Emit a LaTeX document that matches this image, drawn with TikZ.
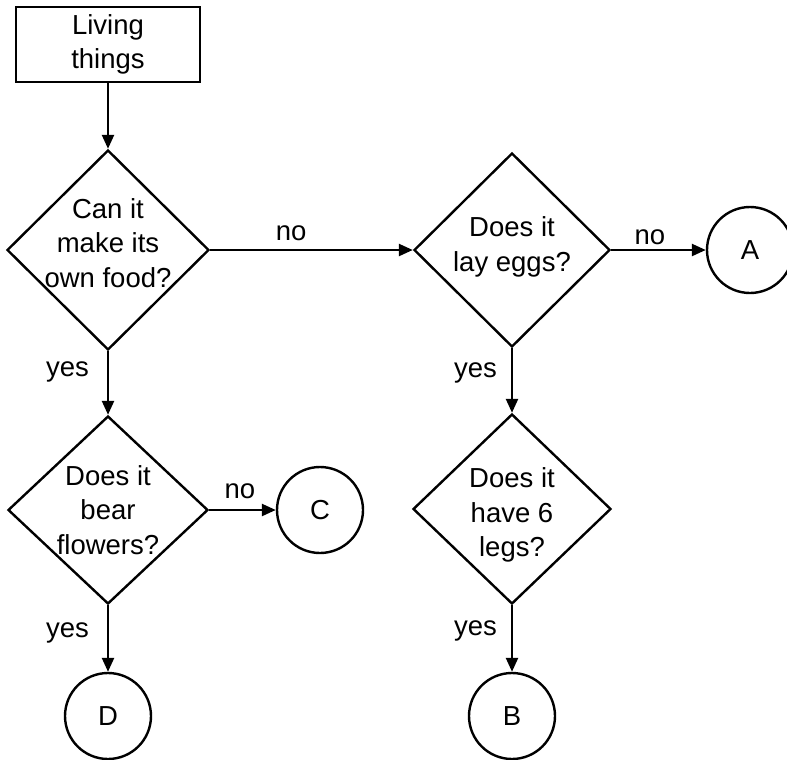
\documentclass[tikz,border=0pt]{standalone}
\usepackage{fontspec}
\setmainfont{Liberation Sans}
\usetikzlibrary{shapes.geometric,arrows.meta}
\begin{document}
\begin{tikzpicture}[x=1pt,y=-1pt,
  every node/.style={font=\fontsize{27.5}{34.5}\selectfont},
  dia/.style={diamond, draw, line width=2.4pt, inner sep=0pt},
  term/.style={circle, draw, line width=2.4pt, minimum size=86pt, inner sep=0pt},
  startbox/.style={rectangle, draw, line width=2.4pt, minimum width=184pt, minimum height=75pt, align=center, inner sep=0pt},
  conn/.style={-{Triangle[length=14pt,width=12pt]}, line width=2.4pt},
  lab/.style={inner sep=0pt}
]
\useasboundingbox (0,0) rectangle (787,760);

\node[startbox] (start) at (108,44.5) {Living\\things};
\node[dia, minimum width=202pt, minimum height=200pt,
  label={[align=center,yshift=7pt]center:Can it\\make its\\own food?}] (d1) at (108,250) {};
\node[dia, minimum width=196pt, minimum height=194pt,
  label={[align=center,yshift=3pt]center:Does it\\lay eggs?}] (d2) at (512,250) {};
\node[dia, minimum width=200pt, minimum height=188pt,
  label={[align=center]center:Does it\\bear\\flowers?}] (d3) at (108,510) {};
\node[dia, minimum width=198pt, minimum height=190pt,
  label={[align=center,yshift=-6pt]center:Does it\\have 6\\legs?}] (d4) at (512,509) {};
\node[term] (A) at (750,250) {A};
\node[term] (C) at (320,510) {C};
\node[term] (D) at (108,716) {D};
\node[term] (B) at (512,716) {B};

\draw[conn] (start.south) -- (d1.north);
\draw[conn] (d1.east) -- node[lab, pos=0.4, above=8pt] {no} (d2.west);
\draw[conn] (d2.east) -- node[lab, pos=0.41, above=4pt] {no} (A.west);
\draw[conn] (d1.south) -- node[lab, pos=0.33, left=18pt] {yes} (d3.north);
\draw[conn] (d3.east) -- node[lab, pos=0.46, above=10pt] {no} (C.west);
\draw[conn] (d3.south) -- node[lab, pos=0.41, left=18pt] {yes} (D.north);
\draw[conn] (d2.south) -- node[lab, pos=0.38, left=14pt] {yes} (d4.north);
\draw[conn] (d4.south) -- node[lab, pos=0.38, left=14pt] {yes} (B.north);
\end{tikzpicture}
\end{document}
